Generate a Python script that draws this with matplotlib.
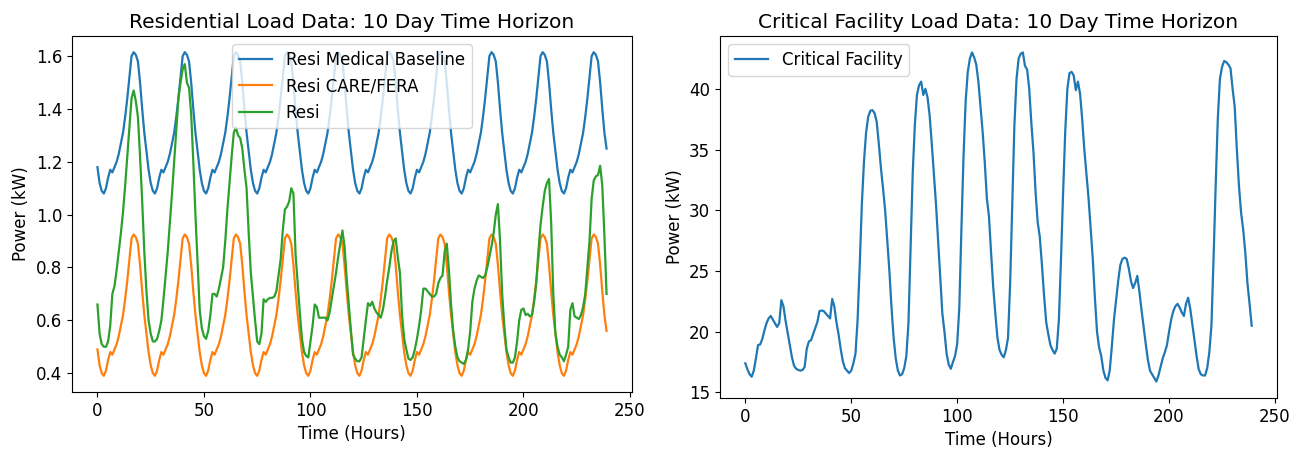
import matplotlib
matplotlib.use("Agg")
import matplotlib.pyplot as plt

hours = list(range(240))

resi_medical = [
    1.18, 1.12, 1.09, 1.08, 1.10, 1.14, 1.17, 1.16, 1.18, 1.20, 1.23, 1.27, 1.31, 1.37, 1.44, 1.52, 1.60, 1.615, 1.605, 1.58, 1.50, 1.40, 1.31, 1.24,
    1.17, 1.12, 1.09, 1.08, 1.10, 1.14, 1.17, 1.16, 1.18, 1.20, 1.23, 1.27, 1.31, 1.37, 1.44, 1.52, 1.60, 1.615, 1.605, 1.58, 1.50, 1.40, 1.31, 1.24,
    1.17, 1.12, 1.09, 1.08, 1.10, 1.14, 1.17, 1.16, 1.18, 1.20, 1.23, 1.27, 1.31, 1.37, 1.44, 1.52, 1.60, 1.615, 1.605, 1.58, 1.50, 1.40, 1.31, 1.24,
    1.17, 1.12, 1.09, 1.08, 1.10, 1.14, 1.17, 1.16, 1.18, 1.20, 1.23, 1.27, 1.31, 1.37, 1.44, 1.52, 1.60, 1.615, 1.605, 1.58, 1.50, 1.40, 1.31, 1.24,
    1.17, 1.12, 1.09, 1.08, 1.10, 1.14, 1.17, 1.16, 1.18, 1.20, 1.23, 1.27, 1.31, 1.37, 1.44, 1.52, 1.60, 1.615, 1.605, 1.58, 1.50, 1.40, 1.31, 1.24,
    1.17, 1.12, 1.09, 1.08, 1.10, 1.14, 1.17, 1.16, 1.18, 1.20, 1.23, 1.27, 1.31, 1.37, 1.44, 1.52, 1.60, 1.615, 1.605, 1.58, 1.50, 1.40, 1.31, 1.24,
    1.17, 1.12, 1.09, 1.08, 1.10, 1.14, 1.17, 1.16, 1.18, 1.20, 1.23, 1.27, 1.31, 1.37, 1.44, 1.52, 1.60, 1.615, 1.605, 1.58, 1.50, 1.40, 1.31, 1.24,
    1.17, 1.12, 1.09, 1.08, 1.10, 1.14, 1.17, 1.16, 1.18, 1.20, 1.23, 1.27, 1.31, 1.37, 1.44, 1.52, 1.60, 1.615, 1.605, 1.58, 1.50, 1.40, 1.31, 1.24,
    1.17, 1.12, 1.09, 1.08, 1.10, 1.14, 1.17, 1.16, 1.18, 1.20, 1.23, 1.27, 1.31, 1.37, 1.44, 1.52, 1.60, 1.615, 1.605, 1.58, 1.50, 1.40, 1.31, 1.24,
    1.17, 1.12, 1.09, 1.08, 1.10, 1.14, 1.17, 1.16, 1.18, 1.20, 1.23, 1.27, 1.31, 1.37, 1.44, 1.52, 1.60, 1.615, 1.605, 1.58, 1.50, 1.40, 1.31, 1.25,
]

resi_care = [
    0.49, 0.43, 0.40, 0.39, 0.41, 0.45, 0.48, 0.47, 0.49, 0.51, 0.54, 0.58, 0.62, 0.68, 0.75, 0.83, 0.91, 0.925, 0.915, 0.89, 0.81, 0.71, 0.62, 0.55,
    0.48, 0.43, 0.40, 0.39, 0.41, 0.45, 0.48, 0.47, 0.49, 0.51, 0.54, 0.58, 0.62, 0.68, 0.75, 0.83, 0.91, 0.925, 0.915, 0.89, 0.81, 0.71, 0.62, 0.55,
    0.48, 0.43, 0.40, 0.39, 0.41, 0.45, 0.48, 0.47, 0.49, 0.51, 0.54, 0.58, 0.62, 0.68, 0.75, 0.83, 0.91, 0.925, 0.915, 0.89, 0.81, 0.71, 0.62, 0.55,
    0.48, 0.43, 0.40, 0.39, 0.41, 0.45, 0.48, 0.47, 0.49, 0.51, 0.54, 0.58, 0.62, 0.68, 0.75, 0.83, 0.91, 0.925, 0.915, 0.89, 0.81, 0.71, 0.62, 0.55,
    0.48, 0.43, 0.40, 0.39, 0.41, 0.45, 0.48, 0.47, 0.49, 0.51, 0.54, 0.58, 0.62, 0.68, 0.75, 0.83, 0.91, 0.925, 0.915, 0.89, 0.81, 0.71, 0.62, 0.55,
    0.48, 0.43, 0.40, 0.39, 0.41, 0.45, 0.48, 0.47, 0.49, 0.51, 0.54, 0.58, 0.62, 0.68, 0.75, 0.83, 0.91, 0.925, 0.915, 0.89, 0.81, 0.71, 0.62, 0.55,
    0.48, 0.43, 0.40, 0.39, 0.41, 0.45, 0.48, 0.47, 0.49, 0.51, 0.54, 0.58, 0.62, 0.68, 0.75, 0.83, 0.91, 0.925, 0.915, 0.89, 0.81, 0.71, 0.62, 0.55,
    0.48, 0.43, 0.40, 0.39, 0.41, 0.45, 0.48, 0.47, 0.49, 0.51, 0.54, 0.58, 0.62, 0.68, 0.75, 0.83, 0.91, 0.925, 0.915, 0.89, 0.81, 0.71, 0.62, 0.55,
    0.48, 0.43, 0.40, 0.39, 0.41, 0.45, 0.48, 0.47, 0.49, 0.51, 0.54, 0.58, 0.62, 0.68, 0.75, 0.83, 0.91, 0.925, 0.915, 0.89, 0.81, 0.71, 0.62, 0.55,
    0.48, 0.43, 0.40, 0.39, 0.41, 0.45, 0.48, 0.47, 0.49, 0.51, 0.54, 0.58, 0.62, 0.68, 0.75, 0.83, 0.91, 0.925, 0.915, 0.89, 0.81, 0.71, 0.62, 0.56,
]

resi = [
    0.66, 0.55, 0.51, 0.50, 0.50, 0.52, 0.58, 0.70, 0.73, 0.79, 0.86, 0.93, 1.01, 1.11, 1.22, 1.33, 1.44, 1.47, 1.43, 1.37, 1.22, 1.05, 0.86, 0.71,
    0.60, 0.55, 0.52, 0.52, 0.53, 0.56, 0.60, 0.68, 0.77, 0.86, 0.97, 1.08, 1.20, 1.32, 1.44, 1.50, 1.55, 1.57, 1.50, 1.48, 1.38, 1.20, 1.00, 0.82,
    0.64, 0.57, 0.54, 0.53, 0.56, 0.62, 0.70, 0.70, 0.69, 0.72, 0.76, 0.80, 0.90, 1.02, 1.12, 1.22, 1.31, 1.33, 1.30, 1.29, 1.25, 1.17, 1.10, 0.93,
    0.78, 0.69, 0.60, 0.52, 0.51, 0.55, 0.68, 0.67, 0.68, 0.685, 0.685, 0.69, 0.71, 0.77, 0.83, 0.94, 1.02, 1.03, 1.05, 1.10, 1.08, 0.85, 0.74, 0.63,
    0.53, 0.48, 0.465, 0.46, 0.52, 0.58, 0.66, 0.65, 0.61, 0.61, 0.61, 0.61, 0.60, 0.63, 0.68, 0.73, 0.78, 0.84, 0.89, 0.94, 0.88, 0.76, 0.66, 0.56,
    0.47, 0.455, 0.445, 0.445, 0.46, 0.53, 0.60, 0.665, 0.655, 0.67, 0.645, 0.63, 0.62, 0.61, 0.64, 0.69, 0.75, 0.80, 0.86, 0.90, 0.91, 0.84, 0.78, 0.62,
    0.53, 0.49, 0.455, 0.45, 0.46, 0.49, 0.53, 0.58, 0.64, 0.72, 0.72, 0.71, 0.70, 0.69, 0.69, 0.70, 0.74, 0.76, 0.77, 0.86, 0.89, 0.79, 0.66, 0.56,
    0.50, 0.46, 0.445, 0.44, 0.435, 0.45, 0.49, 0.56, 0.67, 0.72, 0.75, 0.77, 0.765, 0.76, 0.77, 0.80, 0.84, 0.88, 0.93, 1.00, 1.04, 0.90, 0.70, 0.58,
    0.49, 0.46, 0.44, 0.44, 0.46, 0.52, 0.60, 0.64, 0.645, 0.62, 0.625, 0.615, 0.62, 0.67, 0.74, 0.86, 0.96, 1.03, 1.09, 1.12, 1.135, 0.97, 0.70, 0.55,
    0.50, 0.47, 0.46, 0.445, 0.47, 0.50, 0.64, 0.665, 0.615, 0.61, 0.605, 0.62, 0.65, 0.70, 0.80, 0.90, 1.06, 1.13, 1.145, 1.15, 1.185, 1.11, 0.92, 0.70,
]

critical_facility = [
    17.4, 16.9, 16.5, 16.3, 16.8, 17.8, 18.9, 18.95, 19.4, 20.1, 20.7, 21.1, 21.3, 21.0, 20.7, 20.4, 20.7, 22.6, 22.1, 20.9, 19.9, 18.9, 17.9, 17.2,
    16.95, 16.85, 16.8, 16.85, 17.1, 18.6, 19.2, 19.3, 19.8, 20.3, 20.8, 21.7, 21.75, 21.7, 21.5, 21.3, 21.1, 22.7, 22.1, 20.8, 19.8, 18.6, 17.6, 17.0,
    16.8, 16.6, 16.8, 17.4, 18.2, 21.0, 25.5, 30.5, 34.0, 36.4, 37.7, 38.2, 38.25, 38.0, 37.3, 35.5, 33.5, 31.8, 30.0, 27.5, 25.0, 22.0, 19.5, 17.8,
    16.8, 16.4, 16.5, 17.0, 18.0, 20.7, 27.0, 33.0, 37.0, 39.5, 40.3, 40.6, 39.5, 40.0, 39.3, 37.8, 35.5, 33.0, 30.5, 27.5, 24.5, 21.5, 20.0, 18.2,
    17.3, 16.95, 17.5, 18.0, 19.0, 22.0, 28.5, 34.5, 39.0, 41.4, 42.5, 43.0, 42.6, 42.0, 40.6, 38.5, 36.5, 34.0, 31.0, 29.5, 26.5, 23.7, 21.5, 19.5,
    18.5, 18.1, 17.9, 18.5, 19.5, 24.0, 30.5, 37.0, 40.8, 42.5, 42.9, 43.0, 41.9, 41.6, 40.0, 37.2, 34.8, 31.5, 29.0, 27.8, 25.5, 23.0, 20.8, 19.8,
    18.9, 18.5, 18.2, 18.6, 21.0, 26.0, 31.5, 36.5, 40.0, 41.3, 41.4, 41.1, 39.9, 40.6, 39.6, 37.5, 35.0, 33.0, 31.0, 28.5, 26.0, 22.8, 20.0, 18.7,
    18.0, 16.8, 16.2, 16.0, 16.8, 18.8, 21.0, 22.6, 24.2, 25.5, 26.0, 26.1, 26.0, 25.2, 24.2, 23.6, 24.0, 24.6, 23.3, 21.8, 20.4, 19.0, 17.7, 16.8,
    16.5, 16.2, 15.9, 16.4, 17.1, 17.8, 18.3, 18.9, 20.0, 21.0, 21.7, 22.1, 22.3, 22.0, 21.6, 21.3, 22.3, 22.8, 21.9, 20.6, 19.3, 18.0, 16.9, 16.5,
    16.4, 16.4, 17.0, 18.3, 20.5, 26.0, 32.0, 37.5, 40.8, 41.8, 42.3, 42.2, 42.0, 41.7, 40.0, 38.5, 35.0, 32.0, 29.8, 28.4, 26.5, 24.0, 22.3, 20.5,
]

resi_labels = ["Resi Medical Baseline", "Resi CARE/FERA", "Resi"]
colors = ["#1f77b4", "#ff7f0e", "#2ca02c"]

fig = plt.figure(figsize=(12.99, 4.49), dpi=100)
ax1 = fig.add_axes([72 / 1299, 57 / 449, 560 / 1299, 356 / 449])
ax2 = fig.add_axes([720 / 1299, 51 / 449, 557 / 1299, 362 / 449])

fs_tick = 12
fs_label = 12
fs_title = 14.5

for series, lab, c in zip([resi_medical, resi_care, resi], resi_labels, colors):
    ax1.plot(hours, series, color=c, lw=1.6, label=lab)
ax1.set_title("Residential Load Data: 10 Day Time Horizon", fontsize=fs_title)
ax1.set_xlabel("Time (Hours)", fontsize=fs_label)
ax1.set_ylabel("Power (kW)", fontsize=fs_label)
ax1.legend(loc="upper center", fontsize=fs_label)
ax1.tick_params(labelsize=fs_tick)

ax2.plot(hours, critical_facility, color=colors[0], lw=1.6, label="Critical Facility")
ax2.set_title("Critical Facility Load Data: 10 Day Time Horizon", fontsize=fs_title)
ax2.set_xlabel("Time (Hours)", fontsize=fs_label)
ax2.set_ylabel("Power (kW)", fontsize=fs_label)
ax2.legend(loc="upper left", fontsize=fs_label)
ax2.tick_params(labelsize=fs_tick)

fig.savefig("out.png", dpi=100)
